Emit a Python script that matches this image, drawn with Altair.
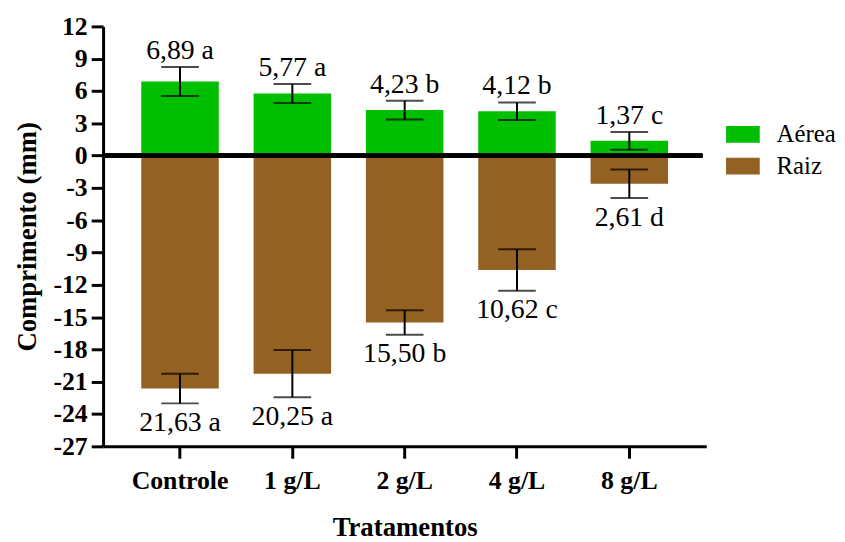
import altair as alt
import pandas as pd

categories = ["Controle", "1 g/L", "2 g/L", "4 g/L", "8 g/L"]
aerea = [6.89, 5.77, 4.23, 4.12, 1.37]
aerea_err = [1.35, 0.88, 0.87, 0.82, 0.83]
aerea_letters = ["a", "a", "b", "b", "c"]
raiz = [21.63, 20.25, 15.50, 10.62, 2.61]
raiz_err = [1.38, 2.20, 1.13, 1.93, 1.33]
raiz_letters = ["a", "a", "b", "c", "d"]
series = ["Aérea", "Raiz"]
colors = ["#00BE00", "#936121"]
y_ticks = list(range(-27, 13, 3))

FONT = "Liberation Serif, serif"

rows = []
for c, v, e, l in zip(categories, aerea, aerea_err, aerea_letters):
    rows.append({"cat": c, "series": "Aérea", "value": v, "lo": v - e, "hi": v + e,
                 "label": f"{v:.2f}".replace(".", ",") + " " + l})
for c, v, e, l in zip(categories, raiz, raiz_err, raiz_letters):
    rows.append({"cat": c, "series": "Raiz", "value": -v, "lo": -v - e, "hi": -v + e,
                 "label": f"{v:.2f}".replace(".", ",") + " " + l})
df = pd.DataFrame(rows)

YT = "Comprimento (mm)"
XT = "Tratamentos"

x_enc = alt.X(
    "cat:N", sort=categories, title=XT,
    scale=alt.Scale(paddingInner=0.31, paddingOuter=0.34),
    axis=alt.Axis(labelAngle=0, labelFont=FONT, labelFontWeight="bold", labelFontSize=26,
                  labelColor="black", labelPadding=10, tickSize=12, tickWidth=3,
                  tickColor="black", domainWidth=3, domainColor="black",
                  titleFont=FONT, titleFontWeight="bold", titleFontSize=27,
                  titleColor="black", titlePadding=21),
)
y_scale = alt.Scale(domain=[-27, 12], nice=False, zero=False)
y_axis = alt.Axis(values=y_ticks, tickCount=14, labelExpr="toString(datum.value)",
                  labelFont=FONT, labelFontWeight="bold", labelFontSize=26,
                  labelColor="black", labelPadding=4, labelOverlap=False,
                  labelBound=False, tickSize=12, tickWidth=3, tickColor="black",
                  domainWidth=3, domainColor="black", grid=False,
                  titleFont=FONT, titleFontWeight="bold", titleFontSize=27,
                  titleColor="black", titlePadding=12)


def yenc(field):
    return alt.Y(field, title=YT, scale=y_scale, axis=y_axis)


base = alt.Chart(df)

bars = base.mark_bar().encode(
    x=x_enc,
    y=yenc("value:Q"),
    y2=alt.datum(0),
    color=alt.Color("series:N", scale=alt.Scale(domain=series, range=colors),
                    legend=alt.Legend(title=None, orient="none", legendX=629, legendY=92,
                                      symbolType="M-1,-0.5H1V0.5H-1Z", symbolSize=1156,
                                      symbolStrokeWidth=0, labelFont=FONT, labelFontSize=25,
                                      labelColor="black", labelOffset=17, rowPadding=2,
                                      padding=0)),
)

zero = base.mark_rule(color="black", strokeWidth=4).encode(
    y=alt.datum(0), x=alt.value(0), x2=alt.value(605)
)

err = base.mark_rule(color="black", strokeWidth=2).encode(
    x=x_enc, y=yenc("lo:Q"), y2="hi:Q"
)
cap_lo = base.mark_tick(color="black", thickness=2, size=38).encode(
    x=x_enc, y=yenc("lo:Q")
)
cap_hi = base.mark_tick(color="black", thickness=2, size=38).encode(
    x=x_enc, y=yenc("hi:Q")
)

txt_top = base.transform_filter(alt.datum.series == "Aérea").mark_text(
    font=FONT, fontSize=28, color="black", baseline="alphabetic", dy=-8
).encode(x=x_enc, y=yenc("hi:Q"), text="label:N")

txt_bot = base.transform_filter(alt.datum.series == "Raiz").mark_text(
    font=FONT, fontSize=28, color="black", baseline="top", dy=6
).encode(x=x_enc, y=yenc("lo:Q"), text="label:N")

chart = alt.layer(bars, zero, err, cap_lo, cap_hi, txt_top, txt_bot).properties(
    width=609, height=424,
    padding={"left": 96, "top": 16, "right": 132, "bottom": 94},
    autosize="none",
).configure_view(stroke=None)

chart.save("out.html", embed_options={"renderer": "svg", "actions": False})
